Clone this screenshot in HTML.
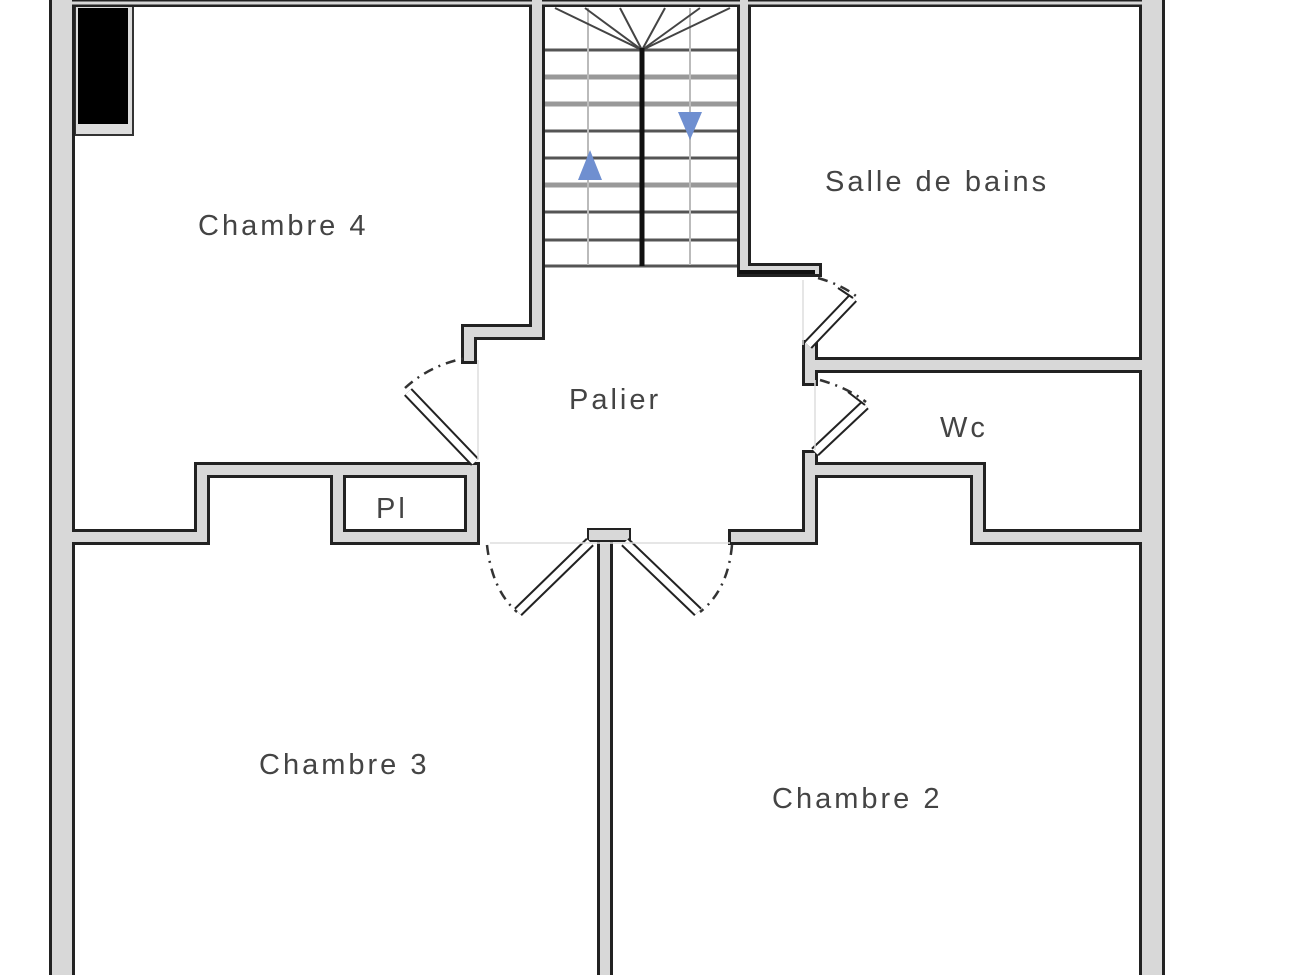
<!DOCTYPE html>
<html><head><meta charset="utf-8"><style>
html,body{margin:0;padding:0;background:#fff;width:1300px;height:975px;overflow:hidden}
svg{display:block}
text{font-family:"Liberation Sans",sans-serif;font-size:29px;fill:#444;letter-spacing:3px}
</style></head><body>
<svg width="1300" height="975" viewBox="0 0 1300 975">
<rect width="1300" height="975" fill="#fff"/>
<!-- stairs -->
<g stroke="#555" stroke-width="3">
<line x1="545" y1="50" x2="737" y2="50"/>
<line x1="545" y1="77" x2="737" y2="77" stroke="#999" stroke-width="5"/>
<line x1="545" y1="104" x2="737" y2="104" stroke="#999" stroke-width="5"/>
<line x1="545" y1="131" x2="737" y2="131"/>
<line x1="545" y1="158" x2="737" y2="158"/>
<line x1="545" y1="185" x2="737" y2="185" stroke="#999" stroke-width="5"/>
<line x1="545" y1="212" x2="737" y2="212"/>
<line x1="545" y1="240" x2="737" y2="240"/>
<line x1="545" y1="266" x2="737" y2="266"/>
</g>
<g stroke="#bbb" stroke-width="2">
<line x1="588" y1="8" x2="588" y2="265"/><line x1="690" y1="8" x2="690" y2="265"/>
</g>
<g stroke="#444" stroke-width="2" fill="none">
<line x1="642" y1="50" x2="555" y2="8"/><line x1="642" y1="50" x2="585" y2="8"/><line x1="642" y1="50" x2="620" y2="8"/>
<line x1="642" y1="50" x2="665" y2="8"/><line x1="642" y1="50" x2="700" y2="8"/><line x1="642" y1="50" x2="730" y2="8"/>
</g>
<line x1="642" y1="48" x2="642" y2="266" stroke="#111" stroke-width="5"/>
<polygon points="590,150 578,180 602,180" fill="#6f8fd0"/>
<polygon points="690,140 678,112 702,112" fill="#6f8fd0"/>
<!-- black block -->
<rect x="75" y="5" width="58" height="130" fill="#ddd" stroke="#333" stroke-width="2"/>
<rect x="78" y="8" width="50" height="116" fill="#000"/>
<!-- walls -->
<g fill="none" stroke-linejoin="miter" stroke-linecap="square">
<g stroke="#222">
<path d="M62,0 V975 M1152,0 V975" stroke-width="26"/>
<path d="M62,3 H1152" stroke-width="8"/>
<path d="M537,0 V332 H469 V356" stroke-width="16"/>
<path d="M202,537 V470 H472 V537 H338 V470 M202,537 H75" stroke-width="16"/>
<path d="M605,540 V975" stroke-width="16"/>
<path d="M744,0 V270 H815" stroke-width="14"/>
<path d="M810,348 V378 M810,365 H1140" stroke-width="16"/>
<path d="M736,537 H810 V458 M810,470 H978 V537 H1140" stroke-width="16"/>
</g>
<g stroke="#d8d8d8">
<path d="M62,0 V975 M1152,0 V975" stroke-width="20"/>
<path d="M62,3 H1152" stroke-width="3"/>
<path d="M537,0 V332 H469 V356" stroke-width="10"/>
<path d="M202,537 V470 H472 V537 H338 V470 M202,537 H75" stroke-width="10"/>
<path d="M605,540 V975" stroke-width="10"/>
<path d="M744,0 V270 H815" stroke-width="8"/>
<path d="M810,348 V378 M810,365 H1140" stroke-width="10"/>
<path d="M736,537 H810 V458 M810,470 H978 V537 H1140" stroke-width="10"/>
</g>
</g>
<line x1="739" y1="272" x2="815" y2="272" stroke="#111" stroke-width="4"/>
<rect x="588" y="529" width="42" height="12" fill="#d8d8d8" stroke="#222" stroke-width="2"/>
<!-- doors -->
<g fill="none" stroke-linecap="butt">
<g stroke="#222" stroke-width="11">
<line x1="475" y1="462" x2="408" y2="392"/>
<line x1="808" y1="345" x2="853" y2="298"/>
<line x1="815" y1="452" x2="865" y2="405"/>
<line x1="590" y1="542" x2="518" y2="612"/>
<line x1="625" y1="542" x2="698" y2="612"/>
</g>
<g stroke="#fff" stroke-width="7">
<line x1="475" y1="462" x2="408" y2="392"/>
<line x1="808" y1="345" x2="853" y2="298"/>
<line x1="815" y1="452" x2="865" y2="405"/>
<line x1="590" y1="542" x2="518" y2="612"/>
<line x1="625" y1="542" x2="698" y2="612"/>
</g>
<g stroke="#333" stroke-width="2.5" stroke-dasharray="10,6,2,6">
<path d="M405,388 Q430,365 466,358"/>
<path d="M818,278 Q842,285 856,296"/>
<path d="M820,380 Q848,388 866,402"/>
<path d="M487,545 Q492,590 517,612"/>
<path d="M732,545 Q728,590 700,612"/>
</g>
<path d="M853,298 L838,288" stroke="#222" stroke-width="2"/>
<path d="M865,405 L848,392" stroke="#222" stroke-width="2"/>
</g>
<!-- faint palier boundaries -->
<g stroke="#ddd" stroke-width="1.5">
<line x1="478" y1="360" x2="478" y2="460"/><line x1="803" y1="280" x2="803" y2="345"/>
<line x1="815" y1="380" x2="815" y2="450"/><line x1="490" y1="543" x2="730" y2="543"/>
</g>
<text x="198" y="235">Chambre 4</text>
<text x="825" y="191">Salle de bains</text>
<text x="569" y="409">Palier</text>
<text x="940" y="437">Wc</text>
<text x="376" y="518">Pl</text>
<text x="259" y="774">Chambre 3</text>
<text x="772" y="808">Chambre 2</text>
</svg>
</body></html>
